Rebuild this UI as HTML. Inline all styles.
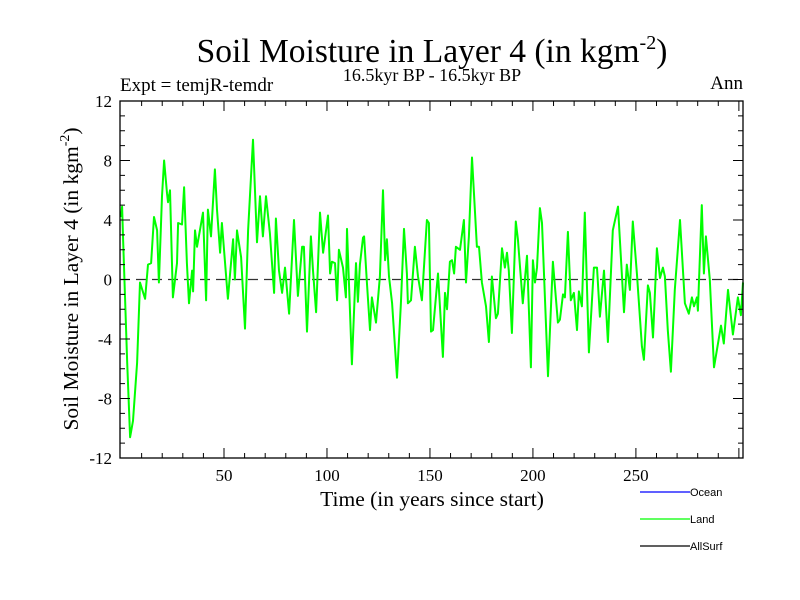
<!DOCTYPE html>
<html><head><meta charset="utf-8"><style>
body{margin:0;background:#fff;}
svg{display:block;font-family:"Liberation Serif",serif;}
</style></head><body>
<svg width="800" height="600" viewBox="0 0 800 600">
<text x="432" y="62" font-size="33.5" text-anchor="middle">Soil Moisture in Layer 4 (in kgm<tspan dy="-13" font-size="20">-2</tspan><tspan dy="13">)</tspan></text>
<text x="432" y="81" font-size="18" text-anchor="middle">16.5kyr BP - 16.5kyr BP</text>
<text x="120" y="91" font-size="19">Expt = temjR-temdr</text>
<text x="743" y="89" font-size="19" text-anchor="end">Ann</text>
<g id="axes"></g>
<text x="432" y="506" font-size="21.5" text-anchor="middle">Time (in years since start)</text>
<text transform="translate(78,279) rotate(-90)" font-size="21.5" text-anchor="middle">Soil Moisture in Layer 4 (in kgm<tspan dy="-9" font-size="14">-2</tspan><tspan dy="9">)</tspan></text>
<g font-family="Liberation Sans, sans-serif" font-size="11">
<line x1="640" y1="492" x2="690" y2="492" stroke="#0000ff" stroke-width="1.3"/>
<text x="690" y="496">Ocean</text>
<line x1="640" y1="519" x2="690" y2="519" stroke="#00ff00" stroke-width="1.3"/>
<text x="690" y="523">Land</text>
<line x1="640" y1="546" x2="690" y2="546" stroke="#000" stroke-width="1.3"/>
<text x="690" y="550">AllSurf</text>
</g>
</svg>
<script>
const years=[0,0.5,1,3,4.4,5.8,7.8,9.2,11.7,13.1,14.6,16,17.5,18.4,19.9,20.9,22.3,22.8,23.8,25.2,27.2,27.7,29.6,30.6,32,33,34.5,35,35.9,36.9,38.3,39.8,41.3,42.2,43.7,45.6,46.6,48.1,49,51.9,54.4,55.3,56.3,58.3,60.2,61.7,64.1,66,67.5,68.9,70.4,72.3,74.3,75.2,76.7,78.2,79.6,81.6,84,85.9,87.9,88.8,90.3,92.2,93.2,94.7,96.6,98.1,100.5,101.5,102.4,103.9,104.9,105.8,107.8,109.2,109.7,112.1,114.1,115,116,117.5,118,119.4,120.9,121.8,123.8,125.7,127.2,128.2,129.1,130.1,131.6,134,135.9,137.4,138.8,139.3,140.8,142.7,144.2,146.1,148.5,149.5,150.5,151.5,153.9,156.3,157.3,158.3,159.7,160.7,161.7,162.6,164.6,166.5,167.5,168.9,170.4,172.8,173.8,175.2,177.2,178.6,180.1,182,183,185,186.4,187.4,188.3,189.8,191.7,192.7,195.1,197.1,199,200,201,202,203.4,204.4,207.3,209.7,212.1,213.1,214.6,215.5,217,218.4,219.9,221.4,222.3,223.8,225.2,227.2,229.6,231.1,232.5,234.5,236.4,238.8,241.3,244.2,245.6,247.1,248.5,250.5,252.9,253.9,255.8,256.8,258.3,260.2,261.7,263.1,264.1,265.5,267,268.9,271.4,273.8,275.7,277.2,278.2,279.6,280.1,282,283,284,285.9,287.9,291.3,292.7,294.7,297.1,299.5,301,302];
const landValues=[4.2,4.9,2.7,-5.6,-10.6,-9.5,-5.6,-0.2,-1.3,1.0,1.1,4.2,3.3,-0.2,5.6,8.0,5.8,5.2,6.0,-1.2,1.1,3.8,3.7,6.2,1.1,-1.6,0.6,-0.8,3.3,2.2,3.3,4.5,-1.4,4.7,2.9,7.4,4.7,1.8,3.8,-1.3,2.7,0,3.3,1.5,-3.3,3.3,9.4,2.5,5.6,2.9,5.6,3.1,-0.9,4.1,0.6,-0.9,0.8,-2.3,4.0,-1.1,2.2,2.2,-3.5,2.9,0.6,-2.2,4.5,1.8,4.3,0.4,1.2,1.1,-1.4,2.0,0.8,-1.2,3.4,-5.7,1.1,-1.5,1.0,2.8,2.9,-0.2,-3.4,-1.2,-2.9,0.2,6.0,1.3,2.7,0.2,-1.6,-6.6,-1.6,3.4,0.4,-1.6,-1.4,2.2,0.2,-1.4,4.0,3.8,-3.5,-3.4,0.4,-5.2,-0.9,-2.0,1.2,1.3,0.4,2.2,2.0,4.0,-0.2,2.9,8.2,2.2,2.2,-0.2,-1.8,-4.2,0.2,-2.6,-2.3,2.1,0.8,1.8,0.6,-3.6,3.9,2.7,-1.6,1.6,-5.9,1.3,-0.2,0.8,4.8,3.8,-6.5,1.2,-2.9,-2.7,-1.0,-1.2,3.2,-1.4,-0.9,-3.4,-0.8,-1.8,4.5,-4.9,0.8,0.8,-2.5,0.6,-4.2,3.3,4.9,-2.2,1.0,-0.7,3.9,0.4,-4.5,-5.4,-0.4,-0.9,-3.9,2.1,0.1,0.8,0.2,-3.4,-6.2,-0.7,4.0,-1.6,-2.3,-1.2,-1.8,-1.2,-2.1,5.0,0.4,2.9,0.0,-5.9,-3.1,-4.3,-0.7,-3.7,-1.2,-2.4,-0.2];
const yTicks=[-12,-8,-4,0,4,8,12];
const xTicks=[50,100,150,200,250];
const X0=120,X1=743,Y0=101,Y1=458,XMIN=-0.5,XMAX=302,YMIN=-12,YMAX=12;
const xs=v=>X0+(v-XMIN)/(XMAX-XMIN)*(X1-X0);
const ys=v=>Y1-(v-YMIN)/(YMAX-YMIN)*(Y1-Y0);
const NS='http://www.w3.org/2000/svg';
const g=document.getElementById('axes');
function mk(t,a){const e=document.createElementNS(NS,t);for(const k in a)e.setAttribute(k,a[k]);g.appendChild(e);return e;}
let z=mk('line',{x1:X0,x2:X1,y1:ys(0),y2:ys(0),stroke:'#333','stroke-width':1.3,'stroke-dasharray':'10,6'});


let d='';years.forEach((y,i)=>{d+=(i?'L':'M')+xs(y).toFixed(1)+','+ys(landValues[i]).toFixed(1);});
let p=mk('path',{d:d,fill:'none',stroke:'#00ff00','stroke-width':2,'stroke-linejoin':'round'});


for(let v=YMIN;v<=YMAX;v++){const L=(v%4===0)?10:5;
 let a=mk('line',{x1:X0,x2:X0+L,y1:ys(v),y2:ys(v),stroke:'#000'});
 
 
 let b=mk('line',{x1:X1-L,x2:X1,y1:ys(v),y2:ys(v),stroke:'#000'});
 
 }
for(let v=10;v<XMAX;v+=10){const L=(v%50===0)?10:5;
 let a=mk('line',{x1:xs(v),x2:xs(v),y1:Y1,y2:Y1-L,stroke:'#000'});
 
 
 let b=mk('line',{x1:xs(v),x2:xs(v),y1:Y0,y2:Y0+L,stroke:'#000'});
 
 }
yTicks.forEach(v=>{let t=mk('text',{x:X0-8,y:ys(v)+6,'font-size':17,'text-anchor':'end'});t.textContent=v;
 
 });
xTicks.forEach(v=>{let t=mk('text',{x:xs(v),y:Y1+23,'font-size':17,'text-anchor':'middle'});t.textContent=v;
 
 });
let r=mk('rect',{x:X0,y:Y0,width:X1-X0,height:Y1-Y0,fill:'none',stroke:'#000','stroke-width':1.3});


</script>
</body></html>
